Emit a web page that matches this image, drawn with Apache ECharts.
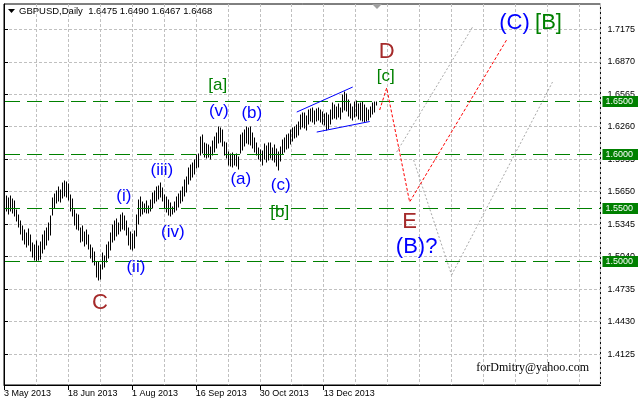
<!DOCTYPE html>
<html><head><meta charset="utf-8">
<script src="https://cdn.jsdelivr.net/npm/echarts@6/dist/echarts.min.js"></script>
<style>html,body{margin:0;padding:0;background:#fff}#c{width:638px;height:402px}</style>
</head><body><div id="c"></div>
<script>
// ---- data ----
var symbolName = 'GBPUSD';
var timeframe = 'Daily';
var lastOHLC = ['1.6475', '1.6490', '1.6467', '1.6468'];
var watermark = 'forDmitry@yahoo.com';

var highs = [
1.5600,1.5610,1.5590,1.5605,1.5580,1.5560,1.5480,1.5430,1.5370,1.5330,
1.5290,1.5260,1.5300,1.5240,1.5170,1.5150,1.5190,1.5140,1.5180,1.5240,
1.5280,1.5310,1.5360,1.5420,1.5590,1.5630,1.5660,1.5690,1.5670,1.5730,
1.5750,1.5740,1.5720,1.5620,1.5580,1.5480,1.5440,1.5430,1.5310,1.5330,
1.5270,1.5290,1.5240,1.5150,1.5120,1.5080,1.4990,1.4990,1.4960,1.5070,
1.5050,1.5150,1.5180,1.5260,1.5340,1.5370,1.5390,1.5360,1.5430,1.5450,
1.5420,1.5370,1.5310,1.5270,1.5250,1.5280,1.5430,1.5570,1.5600,1.5550,
1.5530,1.5560,1.5520,1.5570,1.5640,1.5660,1.5690,1.5700,1.5730,1.5680,
1.5620,1.5600,1.5570,1.5540,1.5510,1.5550,1.5600,1.5630,1.5660,1.5690,
1.5760,1.5790,1.5870,1.5900,1.5920,1.5950,1.5990,1.6000,1.6160,1.6180,
1.6110,1.6100,1.6090,1.6070,1.6130,1.6160,1.6200,1.6260,1.6250,1.6230,
1.6120,1.6110,1.6020,1.6000,1.6010,1.5990,1.6000,1.5980,1.6180,1.6200,
1.6230,1.6260,1.6250,1.6260,1.6200,1.6150,1.6110,1.6060,1.6040,1.6030,
1.6100,1.6080,1.6110,1.6110,1.6060,1.6090,1.6050,1.6020,1.6070,1.6140,
1.6150,1.6180,1.6190,1.6230,1.6250,1.6260,1.6280,1.6300,1.6370,1.6390,
1.6390,1.6360,1.6420,1.6430,1.6440,1.6410,1.6430,1.6440,1.6420,1.6400,
1.6380,1.6390,1.6370,1.6420,1.6480,1.6460,1.6450,1.6470,1.6440,1.6560,
1.6590,1.6570,1.6510,1.6470,1.6450,1.6490,1.6500,1.6470,1.6480,1.6490,
1.6460,1.6440,1.6420,1.6450,1.6480,1.6490,1.6490];
var lows = [
1.5480,1.5470,1.5440,1.5465,1.5450,1.5420,1.5370,1.5320,1.5250,1.5200,
1.5160,1.5130,1.5150,1.5090,1.5040,1.5010,1.5000,1.5005,1.5020,1.5070,
1.5110,1.5150,1.5200,1.5240,1.5430,1.5500,1.5540,1.5560,1.5550,1.5590,
1.5610,1.5600,1.5570,1.5470,1.5420,1.5340,1.5300,1.5290,1.5180,1.5190,
1.5140,1.5160,1.5110,1.5030,1.4990,1.4960,1.4850,1.4820,1.4830,1.4920,
1.4940,1.4990,1.5030,1.5100,1.5180,1.5200,1.5230,1.5250,1.5280,1.5300,
1.5290,1.5240,1.5150,1.5110,1.5100,1.5120,1.5230,1.5350,1.5420,1.5440,
1.5460,1.5450,1.5450,1.5470,1.5500,1.5540,1.5560,1.5580,1.5600,1.5560,
1.5500,1.5460,1.5430,1.5420,1.5440,1.5460,1.5480,1.5510,1.5540,1.5560,
1.5610,1.5650,1.5720,1.5760,1.5790,1.5820,1.5870,1.5880,1.5990,1.6010,
1.5980,1.5970,1.5980,1.5960,1.5990,1.6020,1.6060,1.6110,1.6120,1.6080,
1.5990,1.5970,1.5900,1.5890,1.5880,1.5900,1.5890,1.5860,1.6010,1.6040,
1.6080,1.6110,1.6100,1.6090,1.6060,1.6020,1.5990,1.5960,1.5940,1.5900,
1.5960,1.5930,1.5950,1.5970,1.5950,1.5930,1.5890,1.5850,1.5940,1.6000,
1.6020,1.6050,1.6060,1.6100,1.6130,1.6150,1.6160,1.6180,1.6240,1.6260,
1.6250,1.6230,1.6290,1.6310,1.6300,1.6290,1.6310,1.6320,1.6300,1.6290,
1.6280,1.6230,1.6240,1.6290,1.6330,1.6340,1.6330,1.6350,1.6330,1.6400,
1.6420,1.6410,1.6360,1.6340,1.6320,1.6350,1.6360,1.6330,1.6320,1.6310,
1.6300,1.6310,1.6320,1.6350,1.6380,1.6400,1.6460];

var dateLabels = ['3 May 2013', '18 Jun 2013', '1 Aug 2013', '16 Sep 2013', '30 Oct 2013', '13 Dec 2013'];
var dateBars = [0, 32, 64, 96, 128, 160];
var priceTicks = [1.4125, 1.4430, 1.4735, 1.5040, 1.5345, 1.5650, 1.5955, 1.6260, 1.6565, 1.6870, 1.7175];
var levels = [1.6500, 1.6000, 1.5500, 1.5000];

var wedgeUpper = [[146.5, 1.6398], [174.5, 1.6633]];
var wedgeLower = [[156.5, 1.6210], [183, 1.6309]];
var forecastPath = [[188, 1.6417], [191.5, 1.6624], [203, 1.5553], [251.5, 1.7075]];
var altLineA = [[196.5, 1.6022], [234.5, 1.7197]];
var altLineB = [[205, 1.5947], [224, 1.4867]];
var altLineC = [[224, 1.4867], [274.5, 1.6680]];

var blueMinor = [[60, 1.5609, '(i)'], [66, 1.4942, '(ii)'], [79, 1.5848, '(iii)'], [84.5, 1.5271, '(iv)'],
                 [107.5, 1.6408, '(v)'], [118.5, 1.5763, '(a)'], [124, 1.6389, '(b)'], [138.5, 1.5707, '(c)']];
var greenMinor = [[107, 1.6652, '[a]'], [138, 1.5459, '[b]'], [191, 1.6736, '[c]']];
var brownMajor = [[48, 1.4604, 'C'], [191.5, 1.6962, 'D'], [203, 1.5365, 'E']];
var blueMajor = [[206.5, 1.5130, '(B)?'], [255.5, 1.7234, '(C)']];
var greenMajor = [[272.5, 1.7234, '[B]']];

var yMin = 1.3834, yMax = 1.7413, xMin = 0, xMax = 298.5;

// ---- chart ----
var chart = echarts.init(document.getElementById('c'), null, {renderer: 'canvas'});
var FONT = '"Liberation Sans", Arial, sans-serif';

function textSeries(name, arr, color, size) {
  return {
    type: 'custom', name: name, z: 20, clip: false,
    dimensions: ['x', 'y', {name: 't', type: 'ordinal'}],
    encode: {x: 0, y: 1},
    data: arr,
    renderItem: function (p, api) {
      var c = api.coord([api.value(0), api.value(1)]);
      return {type: 'text', x: c[0], y: c[1],
        style: {text: arr[p.dataIndex][2], fill: color, fontSize: size, fontFamily: FONT,
                align: 'center', verticalAlign: 'middle'}};
    }
  };
}
function lineSeries(name, pts, color, type) {
  return {type: 'line', name: name, data: pts, symbol: 'none', z: 15, clip: false,
    lineStyle: {color: color, width: 1, type: type}, silent: true};
}

var barData = highs.map(function (h, k) { return [k, lows[k], h]; });
var levelData = levels.map(function (v) { return [xMin, v]; });

chart.setOption({
  animation: false,
  backgroundColor: '#fff',
  grid: {left: 4, right: 37, top: 4, bottom: 17, show: true, borderColor: '#000', borderWidth: 1, backgroundColor: 'transparent'},
  xAxis: [{
    type: 'value', min: xMin, max: xMax, interval: 16, position: 'bottom',
    axisLine: {show: false}, axisTick: {show: false}, axisLabel: {show: false},
    splitLine: {show: true, lineStyle: {color: '#c0c0c0', type: [3, 2], width: 1}}
  }, {
    type: 'value', min: xMin, max: xMax, position: 'bottom',
    axisLine: {show: true, lineStyle: {color: '#000'}},
    axisTick: {show: true, customValues: dateBars, length: 5, lineStyle: {color: '#000'}},
    axisLabel: {show: true, customValues: dateBars, align: 'left', margin: 4, color: '#000', fontSize: 9, fontFamily: FONT,
      formatter: function (v) { var k = dateBars.indexOf(Math.round(v)); return k >= 0 ? dateLabels[k] : ''; }},
    splitLine: {show: false}
  }],
  yAxis: {
    type: 'value', position: 'right', min: yMin, max: yMax,
    axisLine: {show: true, lineStyle: {color: '#000'}},
    axisTick: {show: true, customValues: priceTicks, length: 4, lineStyle: {color: '#000'}},
    axisLabel: {show: true, customValues: priceTicks, margin: 7, color: '#000', fontSize: 9, fontFamily: FONT,
      formatter: function (v) { return Number(v).toFixed(4); }},
    splitLine: {show: true, lineStyle: {color: '#c0c0c0', type: [3, 2], width: 1}}
  },
  graphic: [
    {type: 'polygon', shape: {points: [[8, 9], [15, 9], [11.5, 13]]}, style: {fill: '#000'}},
    {type: 'text', x: 19, y: 11, style: {text: symbolName + ',' + timeframe + '  ' + lastOHLC.join(' '),
      fontSize: 9.5, fontFamily: FONT, fill: '#000', verticalAlign: 'middle'}},
    {type: 'polygon', shape: {points: [[372, 4], [382, 4], [377, 9]]}, style: {fill: '#a0a0a0'}},
    {type: 'text', x: 589, y: 368, style: {text: watermark, fontSize: 12,
      fontFamily: '"Liberation Serif", "Times New Roman", serif', fill: '#000', align: 'right', verticalAlign: 'middle'}}
  ],
  series: [
    {
      type: 'custom', name: 'bars', z: 5, data: barData, encode: {x: 0, y: [1, 2]},
      renderItem: function (p, api) {
        var a = api.coord([api.value(0), api.value(1)]);
        var b = api.coord([api.value(0), api.value(2)]);
        var px = Math.round(a[0]) + 0.5;
        return {type: 'line', shape: {x1: px, y1: Math.round(a[1]) + 0.5, x2: px, y2: Math.round(b[1]) - 0.5},
          style: {stroke: '#000', lineWidth: 1}};
      }
    },
    {
      type: 'custom', name: 'levels', z: 12, clip: false, silent: true,
      data: levelData, encode: {x: 0, y: 1},
      renderItem: function (p, api) {
        var cs = p.coordSys;
        var c = api.coord([api.value(0), api.value(1)]);
        var yy = Math.round(c[1]) + 0.5;
        var right = cs.x + cs.width;
        return {type: 'group', children: [
          {type: 'line', shape: {x1: cs.x + 1, y1: yy, x2: right, y2: yy},
            style: {stroke: '#008000', lineWidth: 1, lineDash: [15, 7]}},
          {type: 'rect', shape: {x: right + 2, y: Math.round(c[1]) - 5, width: 36, height: 11},
            style: {fill: '#008000'}},
          {type: 'text', x: right + 5, y: Math.round(c[1]) + 0.5,
            style: {text: Number(api.value(1)).toFixed(4), fill: '#fff', fontSize: 9, fontFamily: FONT,
              align: 'left', verticalAlign: 'middle'}}
        ]};
      }
    },
    lineSeries('wedgeUpper', wedgeUpper, '#0000ff', 'solid'),
    lineSeries('wedgeLower', wedgeLower, '#0000ff', 'solid'),
    lineSeries('altA', altLineA, '#a9a9a9', [2, 2]),
    lineSeries('altB', altLineB, '#a9a9a9', [2, 2]),
    lineSeries('altC', altLineC, '#a9a9a9', [2, 2]),
    lineSeries('forecast', forecastPath, '#ff0000', [3, 2]),
    textSeries('blueMinor', blueMinor, '#0000ff', 17),
    textSeries('greenMinor', greenMinor, '#008000', 17),
    textSeries('brownMajor', brownMajor, '#a52a2a', 22),
    textSeries('blueMajor', blueMajor, '#0000ff', 22),
    textSeries('greenMajor', greenMajor, '#008000', 22)
  ]
});
</script></body></html>
